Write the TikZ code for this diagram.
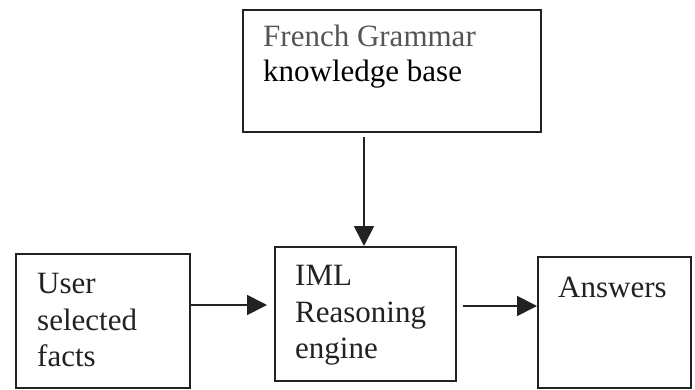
\documentclass[tikz,border=0pt]{standalone}
\usepackage{fontspec}
\setmainfont{Liberation Serif}
\usetikzlibrary{arrows.meta}
\definecolor{inkgray}{HTML}{555555}
\definecolor{ink}{HTML}{222222}
\begin{document}
\begin{tikzpicture}[x=1pt,y=-1pt,
  box/.style={draw=ink,line width=1.8pt,inner sep=0pt,anchor=north west},
  txt/.style={anchor=base west,inner sep=0pt,font=\fontsize{31}{36}\selectfont,text=ink},
  flow/.style={draw=ink,line width=1.8pt,-{Triangle[length=20pt,width=20pt]}}]
\useasboundingbox (0,0) rectangle (695,390);
% boxes
\node[box,minimum width=298pt,minimum height=122pt] (kb) at (242,9) {};
\node[box,minimum width=174pt,minimum height=134pt] (user) at (15,253) {};
\node[box,minimum width=181pt,minimum height=134pt] (iml) at (274,246) {};
\node[box,minimum width=153pt,minimum height=131pt] (ans) at (537,256) {};
% box texts
\node[txt,text=inkgray] (kb1) at (263,47) {French Grammar};
\node[txt,text=black] (kb2) at (263,82) {knowledge base};
\node[txt] (u1) at (37,293) {User};
\node[txt] (u2) at (37,330) {selected};
\node[txt] (u3) at (37,366) {facts};
\node[txt] (i1) at (295,285) {IML};
\node[txt] (i2) at (295,322) {Reasoning};
\node[txt] (i3) at (295,358) {engine};
\node[txt] (a1) at (558,297) {Answers};
% connectors
\coordinate (kbout) at (364,137);
\coordinate (imlin) at (364,246);
\coordinate (uout) at (189,305);
\coordinate (imlleft) at (267,305);
\coordinate (imlout) at (463,306);
\coordinate (ansin) at (537,306);
\draw[flow] (kbout) -- (imlin);
\draw[flow] (uout) -- (imlleft);
\draw[flow] (imlout) -- (ansin);
\end{tikzpicture}
\end{document}
